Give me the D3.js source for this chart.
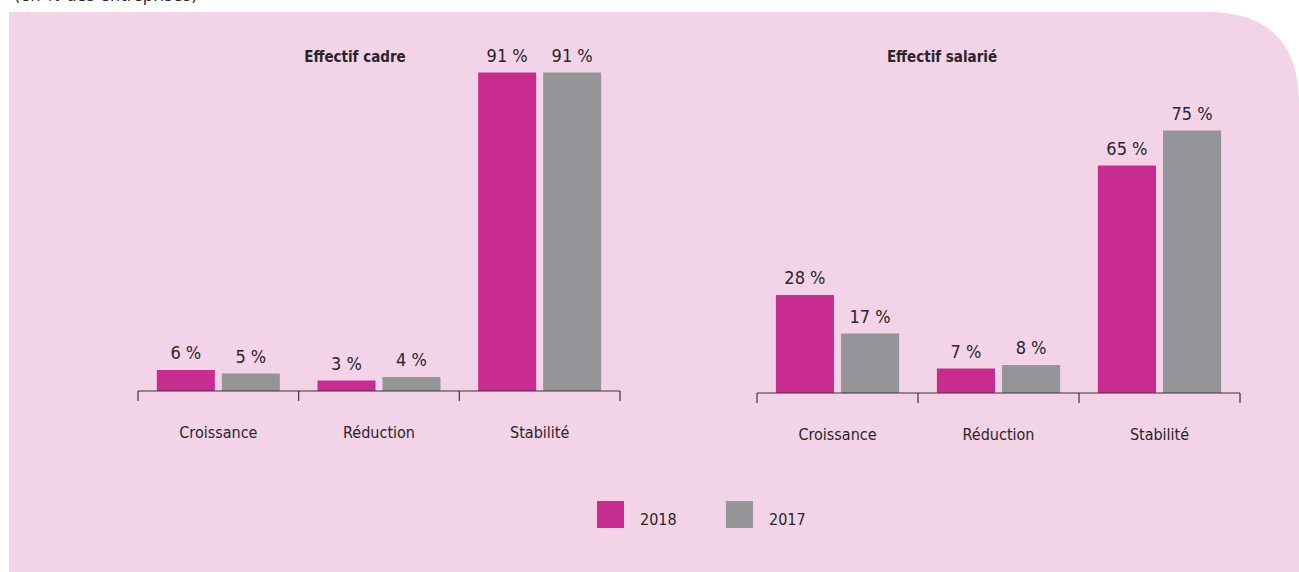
<!DOCTYPE html>
<html><head><meta charset="utf-8">
<script src="https://cdn.jsdelivr.net/npm/d3@7/dist/d3.min.js"></script>
<style>body{margin:0;background:#fff;}svg{display:block;} text{font-stretch:condensed;}</style>
</head><body>
<svg id="c" width="1299" height="572"></svg>
<script>
const categories = ["Croissance", "Réduction", "Stabilité"];
const years = ["2018", "2017"];
const cadre2018 = [6, 3, 91];
const cadre2017 = [5, 4, 91];
const salarie2018 = [28, 7, 65];
const salarie2017 = [17, 8, 75];
const panelTitles = ["Effectif cadre", "Effectif salarié"];
const colors = ["#c82c8f", "#939598"];
const font = "'DejaVu Sans Condensed', 'DejaVu Sans', sans-serif";
const textColor = "#2b2527";

const svg = d3.select("#c");
const px0 = 9, py0 = 12, px1 = 1299, py1 = 572, r = 92;
svg.append("path")
  .attr("d", `M${px0},${py0} L${px1 - r},${py0} Q${px1},${py0} ${px1},${py0 + r} L${px1},${py1} L${px0},${py1} Z`)
  .attr("fill", "#f2d3e7");

// heading mostly above the visible area (as in the reference)
svg.append("text").attr("x", 14).attr("y", 1)
  .attr("font-family", font).attr("font-size", 18).attr("fill", textColor)
  .text("(en % des entreprises)");

const y = d3.scaleLinear().domain([0, 100]).range([0, 350]);

function drawPanel(x0, x1, baseY, title, titleX, v18, v17) {
  const g = svg.append("g");
  const x = d3.scaleBand().domain(categories).range([x0, x1]).paddingInner(0).paddingOuter(0);
  const xs = d3.scaleBand().domain(years).range([0, x.bandwidth()]).paddingInner(0.108).paddingOuter(0.29);
  const data = categories.map((c, i) => ({c, vals: [v18[i], v17[i]]}));
  data.forEach(d => {
    d.vals.forEach((v, j) => {
      const bx = x(d.c) + xs(years[j]);
      g.append("rect").attr("x", bx).attr("y", baseY - y(v))
        .attr("width", xs.bandwidth()).attr("height", y(v)).attr("fill", colors[j]);
      g.append("text").attr("x", bx + xs.bandwidth() / 2).attr("y", baseY - y(v) - 11)
        .attr("text-anchor", "middle").attr("font-family", font).attr("font-size", 18)
        .attr("fill", textColor).text(v + " %");
    });
  });
  const axisG = g.append("g").attr("transform", `translate(0,${baseY})`);
  const axis = d3.axisBottom(x).tickSize(0).tickFormat(d => d).tickPadding(36);
  axisG.call(axis);
  axisG.select(".domain").attr("stroke", "#3a3436").attr("stroke-width", 1.2).attr("d", `M${x0},0H${x1}`);
  axisG.selectAll(".tick text").attr("font-family", font).attr("font-size", 16).attr("fill", textColor);
  const bounds = categories.map(c => x(c)).concat([x1]);
  axisG.selectAll(".bnd").data(bounds).enter().append("line")
    .attr("x1", d => d).attr("x2", d => d).attr("y1", 0).attr("y2", 10)
    .attr("stroke", "#3a3436").attr("stroke-width", 1.2);
  g.append("text").attr("x", titleX).attr("y", 62).attr("text-anchor", "middle")
    .attr("font-family", font).attr("font-weight", "bold").attr("font-size", 15)
    .attr("fill", textColor).text(title);
}

drawPanel(138, 620, 391, panelTitles[0], 355, cadre2018, cadre2017);
drawPanel(757, 1240, 393, panelTitles[1], 942, salarie2018, salarie2017);

const legX = [597, 726];
years.forEach((yr, i) => {
  svg.append("rect").attr("x", legX[i]).attr("y", 501).attr("width", 27).attr("height", 27).attr("fill", colors[i]);
  svg.append("text").attr("x", legX[i] + 43).attr("y", 525).attr("font-family", font).attr("font-size", 16)
    .attr("fill", textColor).text(yr);
});
</script>
</body></html>
